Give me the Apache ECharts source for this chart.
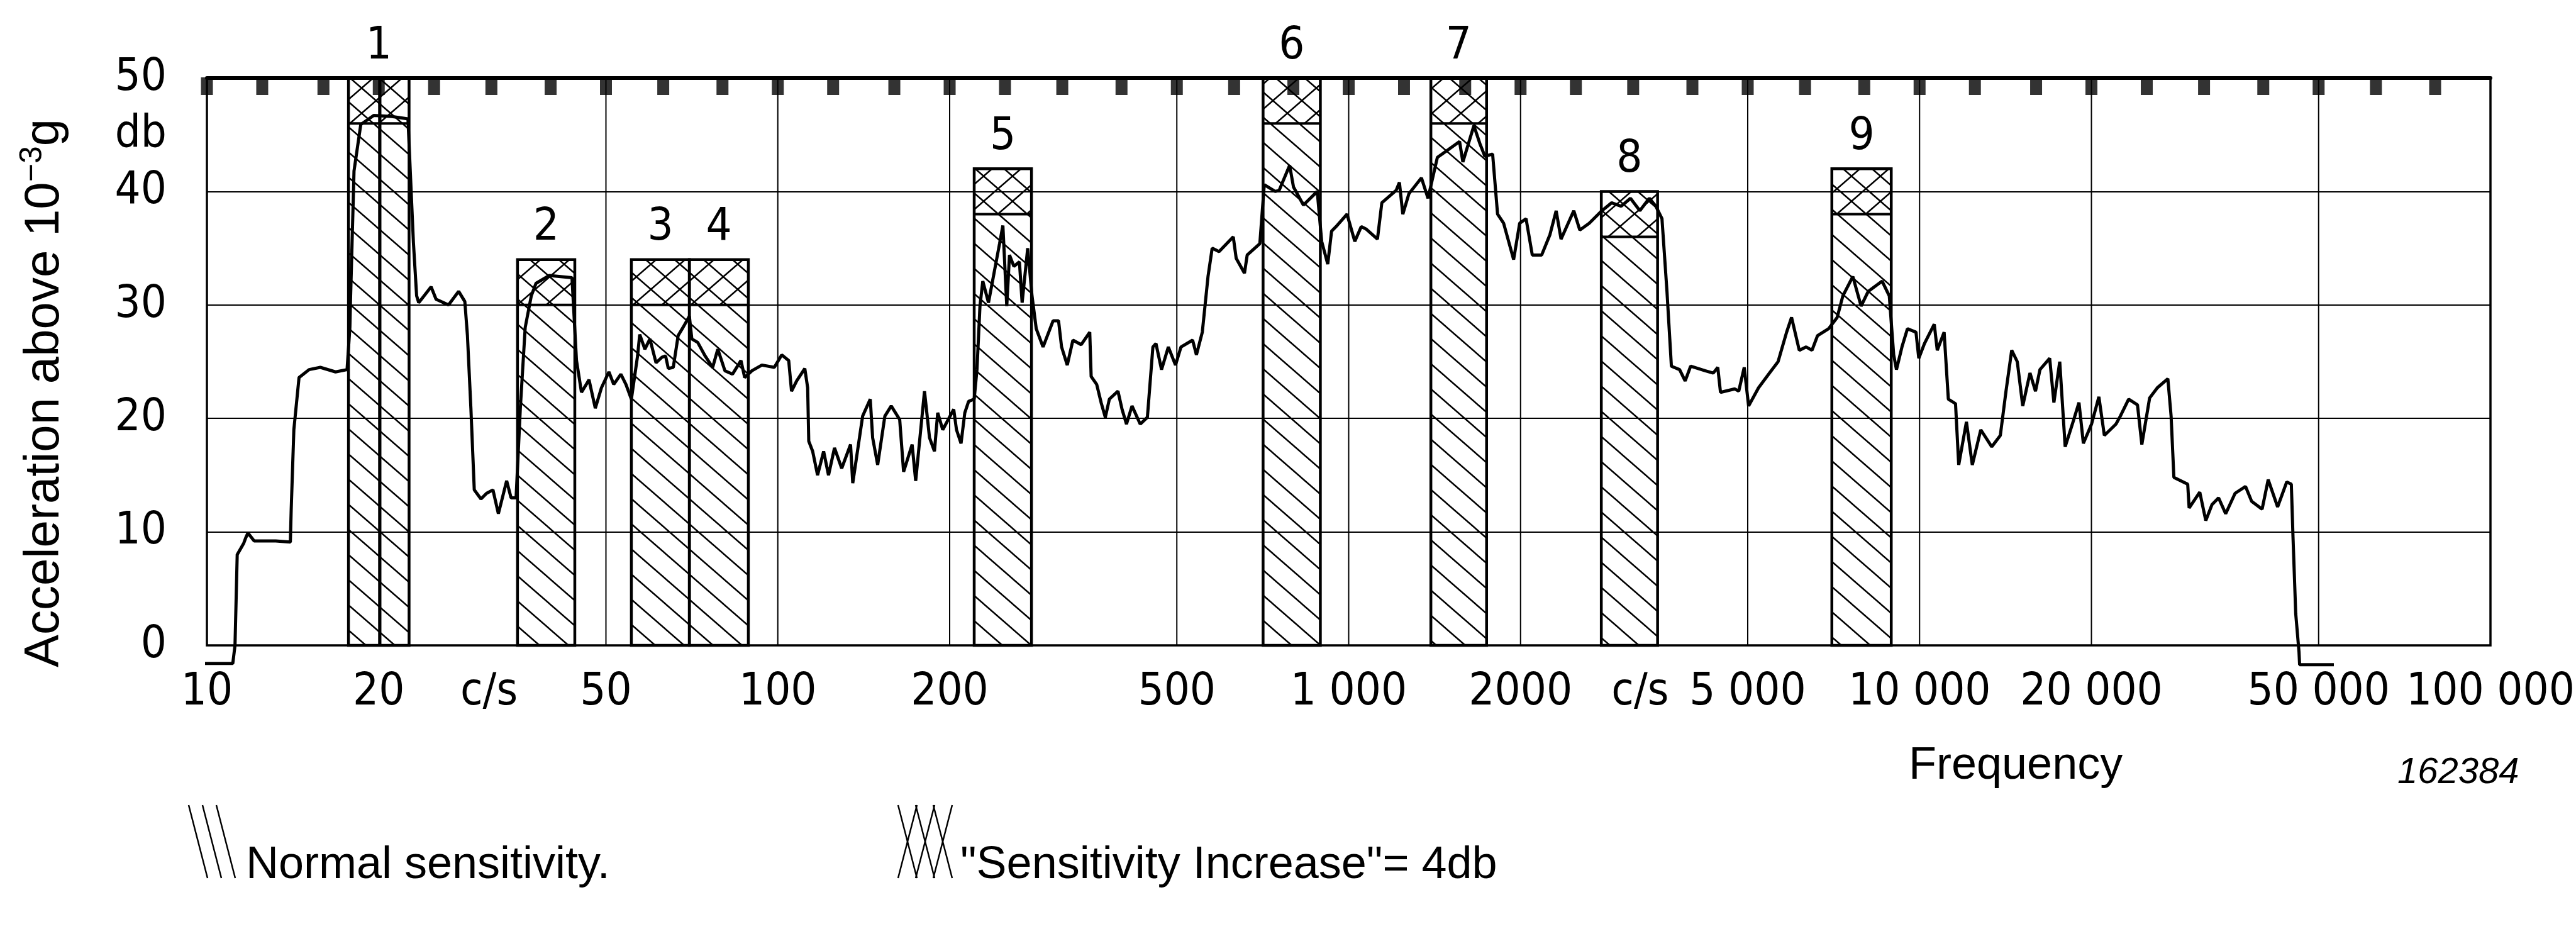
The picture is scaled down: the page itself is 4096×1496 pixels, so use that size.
<!DOCTYPE html>
<html>
<head>
<meta charset="utf-8">
<script src="https://cdn.jsdelivr.net/npm/echarts@6/dist/echarts.min.js"></script>
<style>
  html, body { margin: 0; padding: 0; background: #fff; }
  #chart { width: 4096px; height: 1496px; }
</style>
</head>
<body>
<div id="chart"></div>
<script>
// measured curve (frequency in c/s, level in db)
var freqHz = [9.7, 11.1, 11.2, 11.25, 11.3, 11.6, 11.7, 11.8, 12.1, 13.2, 14.0, 14.05, 14.2, 14.5, 15.1, 15.8, 16.8, 17.6,
  17.8, 17.85, 18.1, 18.6, 19.6, 21.1, 22.5, 23.0, 23.3, 23.5, 24.7, 25.2, 26.5, 27.6, 28.3, 28.6, 29.0, 29.4, 30.2,
  30.9, 31.7, 32.4, 33.5, 34.1, 34.8, 35.4, 36.1, 37.0, 37.7, 39.8, 43.6, 44.4, 45.3, 46.7, 47.9, 49.1, 50.6, 51.6,
  53.1, 54.2, 55.4, 56.8, 57.3, 58.5, 59.7, 61.2, 62.7, 63.6, 64.3, 65.6, 66.9, 68.2, 70.0, 70.7, 72.4, 74.6, 76.9,
  78.5, 80.8, 83.3, 86.2, 87.5, 90.1, 93.8, 98.6, 101.6, 104.5, 105.7, 107.9, 111.5, 112.8, 113.3, 115.1, 117.4,
  120.3, 122.7, 125.7, 129.4, 134.1, 135.3, 140.8, 145.2, 146.6, 149.6, 154.0, 158.0, 163.5, 166.1, 171.9, 174.4,
  180.7, 184.4, 188.1, 190.6, 194.5, 203.3, 205.6, 209.4, 212.6, 215.9, 220.8, 223.3, 226.0, 228.6, 233.9, 239.2,
  244.6, 247.9, 251.8, 254.6, 259.1, 265.0, 267.9, 274.0, 278.8, 283.6, 291.5, 303.5, 310.3, 314.1, 321.4, 328.8,
  340.0, 351.9, 353.9, 361.9, 368.4, 374.7, 380.9, 394.3, 400.9, 408.1, 417.3, 431.4, 444.0, 454.0, 459.6, 470.1,
  483.2, 497.3, 508.5, 532.8, 541.1, 554.1, 567.0, 576.6, 592.8, 627.8, 635.3, 656.8, 664.1, 698.8, 711.4, 743.7,
  755.4, 788.0, 800.4, 833.1, 880.9, 896.8, 919.0, 933.3, 950.2, 993.3, 1025, 1052, 1072, 1123, 1143, 1211, 1227,
  1244, 1275, 1341, 1377, 1430, 1486, 1564, 1585, 1657, 1698, 1732, 1787, 1823, 1868, 1945, 1993, 2045, 2097, 2178,
  2252, 2309, 2355, 2479, 2540, 2638, 2776, 2887, 3001, 3116, 3236, 3361, 3452, 3538, 3610, 3675, 3799, 3885, 3972,
  4210, 4352, 4431, 4480, 4747, 4822, 4930, 5018, 5223, 5459, 5651, 5849, 5967, 6156, 6329, 6480, 6626, 6927, 7172,
  7339, 7640, 7899, 8130, 8596, 8850, 9009, 9110, 9314, 9522, 9856, 9968, 10200, 10610, 10740, 11040, 11230, 11560,
  11710, 12080, 12370, 12800, 13380, 13850, 14170, 14500, 14830, 15160, 15610, 15960, 16250, 16900, 17190, 17600,
  17990, 18600, 19020, 19360, 20010, 20610, 21070, 22080, 22470, 23240, 24080, 24510, 25290, 26090, 27220, 27580,
  27890, 29490, 29660, 30960, 31720, 32520, 33400, 34370, 35700, 37240, 38160, 39810, 40800, 42380, 43970, 44790,
  45090, 45590, 46200, 46310, 53170];
var accelDb = [-1.6, -1.6, 0, 4, 8, 9.0, 9.5, 9.9, 9.2, 9.2, 9.1, 12, 19, 23.6, 24.3, 24.5, 24.1, 24.3,
  28, 30.6, 41.8, 45.9, 46.7, 46.6, 46.4, 35.5, 30.8, 30.2, 31.6, 30.5, 30.0, 31.2, 30.3, 27.3, 20.9, 13.7, 12.9,
  13.4, 13.7, 11.6, 14.5, 13.0, 13.0, 20.9, 28.0, 30.8, 31.9, 32.6, 32.4, 25.1, 22.3, 23.4, 20.9, 22.7, 24.1, 23.0,
  23.9, 23.0, 21.7, 25.5, 27.4, 26.1, 27.0, 24.9, 25.4, 25.5, 24.4, 24.5, 27.3, 28.0, 29.0, 27.0, 26.7, 25.5, 24.5,
  26.1, 24.2, 23.9, 25.1, 23.6, 24.2, 24.7, 24.5, 25.6, 25.1, 22.4, 23.3, 24.4, 22.7, 18.0, 17.1, 15.0,
  17.1, 15.0, 17.4, 15.6, 17.7, 14.3, 20.2, 21.7, 18.3, 15.9, 20.2, 21.1, 19.9, 15.3, 17.7, 14.5,
  22.4, 18.3, 17.1, 20.5, 19.0, 20.8, 19.0, 17.8, 20.5, 21.5, 21.7, 24.3, 29.9, 32.1, 30.2, 32.8,
  35.4, 37.0, 29.9, 34.4, 33.4, 33.8, 30.2, 35.0, 30.8, 27.9, 26.3, 28.6, 28.6, 26.3, 24.7, 26.9,
  26.5, 27.6, 23.7, 23.0, 21.4, 20.1, 21.7, 22.4, 20.8, 19.5, 21.1, 19.5, 20.1, 26.3, 26.6, 24.3,
  26.3, 24.7, 26.3, 26.9, 25.6, 27.6, 32.5, 35.0, 34.7, 36.0, 34.1, 32.8, 34.4, 35.4, 40.6, 40.0,
  40.1, 42.3, 40.4, 38.8, 40.0, 35.6, 33.6, 36.5, 36.9, 38.0, 35.6, 36.9, 36.7, 35.8, 39.0, 40.1, 40.8,
  38.0, 39.8, 41.2, 39.4, 43.0, 43.6, 44.4, 42.6, 45.8, 44.2, 43.1, 43.3, 38.0, 37.2, 34.0, 37.2, 37.6, 34.4, 34.4,
  36.2, 38.3, 35.8, 38.3, 36.6, 37.2, 38.3, 39.0, 38.7, 39.4, 38.3, 39.4, 38.7, 37.6, 31.2, 24.6, 24.3, 23.3, 24.6,
  24.2, 24.0, 24.5, 22.3, 22.6, 22.4, 24.5, 21.1, 22.7, 24.0, 25.0, 27.6, 28.9, 26.0, 26.3, 26.0, 27.3, 27.9, 28.9,
  30.8, 32.5, 29.9, 31.2, 32.1, 30.8, 25.6, 24.3, 26.3, 27.9, 27.6, 25.3, 26.6, 28.3, 26.0, 27.6, 21.7, 21.3,
  15.9, 19.7, 15.9, 19.0, 17.5, 18.5, 22.4, 26.0, 25.0, 21.1, 24.0, 22.4, 24.3, 25.3, 21.4, 25.0,
  17.5, 19.8, 21.4, 17.8, 19.5, 21.9, 18.5, 19.5, 20.2, 21.7, 21.2, 17.7, 21.8, 22.7, 23.5, 20.2,
  14.8, 14.2, 12.1, 13.5, 11.0, 12.4, 13.0, 11.6, 13.4, 14.0, 12.7, 12.0, 14.6, 12.2, 14.4, 14.2,
  9.6, 2.8, -0.6, -1.7, -1.7];

// analysed bands
var bandNames = ['1', '2', '3', '4', '5', '6', '7', '8', '9'];
var bandLowHz = [17.7, 35.0, 55.4, 70.0, 220.8, 708, 1393, 2770, 7020];
var bandHighHz = [22.6, 44.1, 70.0, 88.8, 278.2, 892, 1744, 3476, 8920];
var bandNormalDb = [46, 30, 30, 30, 38, 46, 46, 36, 38];
var bandIncreaseDb = 4;
var bandDividerHz = [20.1, null, null, null, null, null, null, null, null];

// frequency axis
var gridFreqs = [20, 50, 100, 200, 500, 1000, 2000, 5000, 10000, 20000, 50000];
var tickFreqs = [10, 20, 50, 100, 200, 500, 1000, 2000, 5000, 10000, 20000, 50000, 100000];
var tickLabels = ['10', '20', '50', '100', '200', '500', '1 000', '2000', '5 000', '10 000', '20 000', '50 000', '100 000'];
var unitFreqs = [31.2, 3240];
var unitLabel = 'c/s';
var markerFreqs = [10, 12.5, 16, 20, 25, 31.5, 40, 50, 63, 80, 100, 125, 160, 200, 250, 315, 400, 500, 630, 800,
  1000, 1250, 1600, 2000, 2500, 3150, 4000, 5000, 6300, 8000, 10000, 12500, 16000, 20000, 25000, 31500, 40000,
  50000, 63000, 80000];

var NUM_FONT = "'Liberation Sans Narrow', 'DejaVu Sans Condensed', 'Liberation Sans', sans-serif";
var TXT_FONT = "'Liberation Sans', 'DejaVu Sans', sans-serif";
var FS = 72;

function makeHatch(cross) {
  var w = 46, h = 40;
  var c = document.createElement('canvas');
  c.width = w;
  c.height = h;
  var ctx = c.getContext('2d');
  ctx.strokeStyle = '#000';
  ctx.lineWidth = 2.5;
  ctx.beginPath();
  for (var k = -1; k <= 1; k++) {
    ctx.moveTo(-w, -h + k * h);
    ctx.lineTo(2 * w, 2 * h + k * h);
    if (cross) {
      ctx.moveTo(-w, 2 * h + k * h);
      ctx.lineTo(2 * w, -h + k * h);
    }
  }
  ctx.stroke();
  return c;
}
var hatchImg = makeHatch(false);
var crossImg = makeHatch(true);

var myChart = echarts.init(document.getElementById('chart'));

var curveData = freqHz.map(function (f, i) { return [f, accelDb[i]]; });
var bandData = bandLowHz.map(function (lo, i) {
  return [lo, bandHighHz[i], bandNormalDb[i], bandNormalDb[i] + bandIncreaseDb];
});
var labelFreqs = tickFreqs.concat(unitFreqs);
var labelTexts = tickLabels.concat(unitFreqs.map(function () { return unitLabel; }));

function legendLines(x0, y0, w, h, n, cross) {
  var out = [];
  var step = (w - 30) / (n - 1);
  for (var k = 0; k < n; k++) {
    var xa = x0 + k * step;
    out.push({ type: 'line', shape: { x1: xa, y1: y0, x2: xa + 30, y2: y0 + h }, style: { stroke: '#000', lineWidth: 2.5 } });
    if (cross) {
      out.push({ type: 'line', shape: { x1: xa + 30, y1: y0, x2: xa, y2: y0 + h }, style: { stroke: '#000', lineWidth: 2.5 } });
    }
  }
  return out;
}

var option = {
  backgroundColor: '#fff',
  animation: false,
  grid: {
    left: 329, right: 136, top: 124, bottom: 470,
    show: true, borderColor: '#000', borderWidth: 3.5
  },
  xAxis: {
    type: 'log', logBase: 10, min: 10, max: 100000,
    position: 'top',
    axisLine: { show: true, onZero: false, lineStyle: { color: '#000', width: 6 } },
    axisTick: { show: false },
    axisLabel: { show: false },
    splitLine: { show: false }
  },
  yAxis: {
    type: 'value', min: 0, max: 50, interval: 10,
    name: 'Acceleration above 10{sup|\u22123}g',
    nameLocation: 'middle',
    nameGap: 214,
    nameTextStyle: {
      fontFamily: TXT_FONT, fontSize: 78, color: '#000', lineHeight: 88,
      padding: [0, 100, 0, 0],
      rich: { sup: { fontFamily: TXT_FONT, fontSize: 50, color: '#000', verticalAlign: 'top' } }
    },
    axisLine: { show: false },
    axisTick: { show: false },
    axisLabel: {
      fontFamily: NUM_FONT, fontSize: FS, color: '#000', margin: 64,
      customValues: [0, 10, 20, 30, 40, 45, 50],
      formatter: function (v) { return v === 45 ? 'db' : String(v); }
    },
    splitLine: { lineStyle: { color: '#000', width: 2 } }
  },
  series: [
    {
      // vertical grid lines at 1-2-5 steps
      type: 'custom', name: 'grid', z: 1, silent: true,
      data: gridFreqs.map(function (f) { return [f, 0]; }),
      encode: { x: 0, y: 1 },
      renderItem: function (params, api) {
        var pb = api.coord([gridFreqs[params.dataIndex], 0]);
        var pt = api.coord([gridFreqs[params.dataIndex], 50]);
        return { type: 'line', shape: { x1: pb[0], y1: pb[1], x2: pt[0], y2: pt[1] }, style: { stroke: '#000', lineWidth: 2 } };
      }
    },
    {
      // frequency tick labels
      type: 'custom', name: 'ticks', z: 5, silent: true,
      data: labelFreqs.map(function (f) { return [f, 0]; }),
      encode: { x: 0, y: 1 },
      renderItem: function (params, api) {
        var p = api.coord([labelFreqs[params.dataIndex], 0]);
        return {
          type: 'text',
          style: {
            text: labelTexts[params.dataIndex], x: p[0], y: p[1] + 75,
            align: 'center', verticalAlign: 'middle',
            font: FS + 'px ' + NUM_FONT, fill: '#000'
          }
        };
      }
    },
    {
      type: 'custom', name: 'bands', z: 2, silent: true,
      data: bandData,
      encode: { x: [0, 1], y: [2, 3] },
      renderItem: function (params, api) {
        var i = params.dataIndex;
        var pb = api.coord([bandLowHz[i], 0]);
        var pn = api.coord([bandHighHz[i], bandNormalDb[i]]);
        var pt = api.coord([bandHighHz[i], bandNormalDb[i] + bandIncreaseDb]);
        var x0 = pb[0], x1 = pn[0], yB = pb[1], yN = pn[1], yT = pt[1];
        var ch = [
          { type: 'rect', shape: { x: x0, y: yN, width: x1 - x0, height: yB - yN }, style: { fill: { image: hatchImg, repeat: 'repeat' } } },
          { type: 'rect', shape: { x: x0, y: yT, width: x1 - x0, height: yN - yT }, style: { fill: { image: crossImg, repeat: 'repeat' } } },
          { type: 'rect', shape: { x: x0, y: yT, width: x1 - x0, height: yB - yT }, style: { fill: 'none', stroke: '#000', lineWidth: 4.5 } },
          { type: 'line', shape: { x1: x0, y1: yN, x2: x1, y2: yN }, style: { stroke: '#000', lineWidth: 4 } },
          {
            type: 'text',
            style: {
              text: bandNames[i], x: (x0 + x1) / 2, y: yT - 50, align: 'center', verticalAlign: 'middle',
              font: FS + 'px ' + NUM_FONT, fill: '#000'
            }
          }
        ];
        if (bandDividerHz[i]) {
          var pd = api.coord([bandDividerHz[i], 0]);
          ch.push({ type: 'line', shape: { x1: pd[0], y1: yB, x2: pd[0], y2: yT }, style: { stroke: '#000', lineWidth: 4.5 } });
        }
        return { type: 'group', children: ch };
      }
    },
    {
      type: 'line', name: 'level', z: 3, silent: true,
      data: curveData,
      showSymbol: false, clip: false,
      lineStyle: { color: '#000', width: 5 }
    },
    {
      type: 'scatter', name: 'markers', z: 4, silent: true, clip: false,
      data: markerFreqs.map(function (f) { return [f, 50]; }),
      symbol: 'rect', symbolSize: [19, 28], symbolOffset: [0, 13],
      itemStyle: { color: '#000' }
    }
  ],
  graphic: [
    {
      type: 'text', left: 3205 - 170, top: 1182,
      style: { text: 'Frequency', font: FS + 'px ' + TXT_FONT, fill: '#000' }
    },
    {
      type: 'text', left: 3812, top: 1200,
      style: { text: '162384', font: 'italic 58px ' + TXT_FONT, fill: '#000' }
    },
    { type: 'group', children: legendLines(300, 1280, 74, 116, 3, false) },
    {
      type: 'text', left: 391, top: 1340,
      style: { text: 'Normal sensitivity.', font: FS + 'px ' + TXT_FONT, fill: '#000' }
    },
    { type: 'group', children: legendLines(1428, 1280, 86, 116, 3, true) },
    {
      type: 'text', left: 1527, top: 1340,
      style: { text: '"Sensitivity Increase"= 4db', font: FS + 'px ' + TXT_FONT, fill: '#000' }
    }
  ]
};

myChart.setOption(option);
</script>
</body>
</html>
